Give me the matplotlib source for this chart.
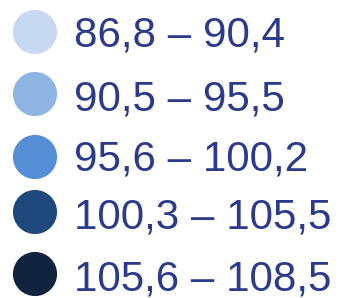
import matplotlib.pyplot as plt

# legend classes
labels = ['86,8 – 90,4', '90,5 – 95,5', '95,6 – 100,2', '100,3 – 105,5', '105,6 – 108,5']
colors = ['#C6D9F1', '#8DB4E2', '#558ED5', '#1F497D', '#10243F']

# layout in pixels
circle_y = [32, 94, 157, 212, 274]
text_base = [47, 111, 170, 228, 290]

fig = plt.figure(figsize=(3.41, 2.98), dpi=100)
ax = fig.add_axes([0, 0, 1, 1])
ax.set_xlim(0, 341)
ax.set_ylim(298, 0)
ax.axis('off')

for lab, col, cy, ty in zip(labels, colors, circle_y, text_base):
    ax.scatter([35], [cy], s=1010, color=col, edgecolors='none')
    ax.text(74, ty, lab, fontsize=30.3, family='Liberation Sans',
            color='#2B3A8C', va='baseline', ha='left')

fig.savefig('out.png', dpi=100)
